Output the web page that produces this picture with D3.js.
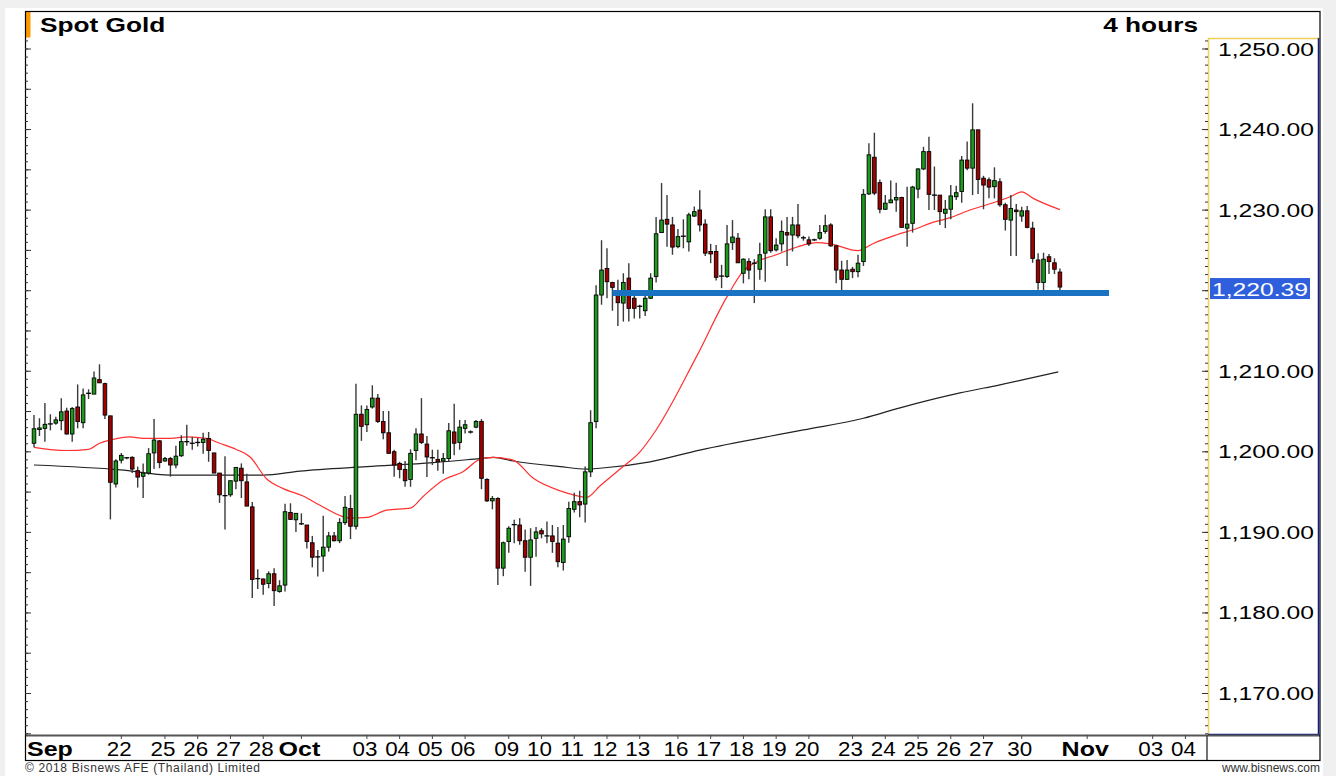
<!DOCTYPE html>
<html>
<head>
<meta charset="utf-8">
<script src="https://cdn.jsdelivr.net/npm/d3@7"></script>
<style>
	body { margin: 0; background: #f0f0f0; }
	svg { display: block; font-family: "Liberation Sans", Arial, sans-serif; }
</style>
</head>
<body>
<div id="chart"></div>
<script>

// 4 hour candles (index 0 = first bar on the left)
const candleOpen = [
	1201.0,1202.7,1202.85,1203.3,1203.5,1203.8,1205.0,1202.15,1205.5,1203.55,
	1207.1,1207.1,1208.9,1208.4,1204.4,1195.95,1198.9,1199.1,1199.25,1197.6,
	1196.9,1197.3,1199.8,1201.3,1198.8,1199.1,1198.3,1199.45,1201.1,1201.1,
	1201.0,1201.1,1201.6,1199.8,1197.3,1194.6,1194.6,1196.3,1197.9,1196.2,
	1193.1,1184.1,1184.15,1183.6,1184.8,1182.6,1183.4,1192.4,1191.5,1191.1,
	1190.85,1188.65,1186.8,1187.0,1188.1,1189.5,1188.9,1191.15,1192.9,1190.7,
	1204.6,1203.3,1205.5,1206.6,1203.7,1202.3,1199.95,1198.5,1197.75,1196.5,
	1200.1,1202.15,1200.9,1199.1,1199.0,1198.8,1199.1,1202.4,1201.1,1202.85,
	1202.4,1203.0,1203.7,1196.5,1193.85,1194.15,1185.5,1188.8,1190.8,1190.85,
	1188.9,1186.85,1189.2,1190.15,1189.6,1189.5,1188.6,1186.2,1189.4,1192.8,
	1193.75,1193.45,1197.45,1203.7,1219.4,1222.7,1220.95,1219.95,1218.4,1221.5,
	1219.0,1217.9,1217.45,1219.0,1221.7,1227.15,1228.8,1228.1,1225.4,1226.6,
	1226.0,1229.2,1229.95,1228.2,1224.8,1224.8,1221.7,1221.7,1225.9,1226.45,
	1222.1,1223.55,1223.4,1222.6,1224.6,1229.1,1225.0,1225.75,1227.15,1226.85,
	1228.1,1226.45,1226.25,1226.2,1226.45,1227.3,1228.1,1225.5,1222.5,1221.35,
	1222.6,1222.3,1223.55,1231.95,1236.5,1233.35,1230.05,1230.85,1231.2,1231.5,
	1227.7,1228.3,1232.55,1235.05,1237.2,1231.75,1231.8,1229.55,1230.05,1231.6,
	1232.25,1236.15,1235.15,1239.9,1233.9,1233.7,1232.85,1233.45,1230.6,1228.7,
	1229.95,1229.2,1229.85,1227.7,1223.75,1220.95,1224.15,1223.4,1222.25
];
const candleHigh = [
	1204.5,1204.1,1206.0,1204.6,1204.3,1206.6,1205.4,1205.5,1208.3,1207.8,
	1207.7,1209.9,1210.8,1208.5,1204.4,1199.0,1199.8,1199.3,1199.4,1198.1,
	1198.5,1200.4,1204.0,1201.4,1199.3,1199.3,1200.7,1202.0,1203.3,1201.8,
	1201.65,1202.3,1202.4,1199.8,1197.3,1199.4,1196.35,1198.0,1198.5,1197.2,
	1193.7,1185.35,1184.2,1185.1,1185.5,1184.0,1193.5,1193.55,1192.3,1192.3,
	1190.85,1189.5,1187.75,1192.0,1190.0,1190.0,1191.7,1194.45,1194.6,1208.4,
	1205.7,1205.7,1208.2,1207.1,1205.0,1205.0,1200.2,1198.7,1198.8,1200.25,
	1202.85,1206.6,1201.9,1200.2,1200.2,1199.8,1203.5,1205.9,1203.9,1203.9,
	1202.6,1203.9,1204.0,1196.65,1194.45,1194.3,1188.8,1190.7,1191.5,1191.7,
	1190.3,1190.45,1190.6,1190.45,1191.3,1190.85,1190.6,1190.85,1193.75,1194.85,
	1195.1,1198.1,1205.1,1220.6,1226.2,1225.2,1221.05,1221.3,1222.1,1223.35,
	1219.4,1218.2,1219.8,1222.1,1229.1,1233.3,1231.8,1229.1,1227.6,1228.8,
	1229.6,1230.4,1232.4,1228.8,1225.75,1225.6,1223.15,1228.1,1228.7,1227.1,
	1223.95,1223.95,1223.85,1225.9,1230.05,1230.05,1226.45,1228.65,1229.1,1229.1,
	1230.7,1226.75,1226.65,1226.4,1228.1,1229.35,1228.3,1225.6,1223.65,1223.75,
	1222.9,1224.4,1232.55,1238.25,1239.55,1233.75,1231.8,1233.6,1233.35,1231.6,
	1232.85,1232.95,1235.15,1237.8,1239.05,1235.35,1231.8,1231.2,1233.05,1232.95,
	1236.65,1238.45,1243.2,1239.9,1234.2,1234.0,1235.25,1233.9,1230.85,1231.8,
	1230.7,1230.35,1230.45,1228.5,1224.6,1224.65,1224.5,1223.95,1222.7
];
const candleLow = [
	1200.5,1201.9,1201.2,1202.6,1203.3,1202.6,1202.1,1201.2,1202.85,1202.85,
	1206.5,1207.1,1208.5,1204.0,1191.55,1195.5,1198.5,1199.0,1197.3,1195.5,
	1194.2,1197.1,1197.8,1197.9,1198.7,1196.85,1197.9,1199.3,1200.7,1200.2,
	1200.6,1199.7,1198.7,1197.3,1193.6,1190.3,1194.35,1195.3,1194.2,1193.2,
	1181.8,1182.9,1182.2,1183.0,1180.8,1182.45,1182.6,1191.5,1190.0,1190.85,
	1187.95,1185.6,1184.45,1185.05,1187.55,1188.8,1188.6,1190.85,1189.1,1190.3,
	1201.3,1202.4,1205.3,1203.5,1201.5,1199.75,1196.85,1196.65,1195.6,1195.6,
	1198.9,1200.9,1196.8,1198.3,1197.6,1197.2,1198.8,1199.5,1200.2,1202.2,
	1202.2,1202.85,1195.3,1193.7,1192.8,1183.4,1184.5,1187.4,1188.6,1188.4,
	1185.05,1183.3,1186.9,1189.2,1188.6,1187.4,1185.6,1185.2,1188.65,1192.4,
	1191.8,1191.15,1196.8,1202.85,1218.2,1219.0,1217.45,1215.55,1216.1,1216.1,
	1216.5,1216.5,1216.8,1218.9,1220.95,1227.1,1225.4,1224.4,1225.2,1225.2,
	1224.8,1229.1,1227.3,1224.25,1223.35,1221.2,1220.25,1221.5,1225.0,1223.4,
	1220.85,1221.35,1218.4,1221.3,1221.05,1224.65,1224.8,1224.8,1223.0,1224.8,
	1226.45,1226.15,1225.5,1226.1,1226.25,1227.0,1225.4,1220.85,1219.8,1221.3,
	1221.5,1221.6,1223.0,1231.8,1231.8,1229.55,1229.95,1230.8,1229.75,1227.8,
	1225.4,1227.15,1231.4,1234.9,1229.95,1229.95,1228.1,1227.7,1228.8,1231.2,
	1230.85,1234.9,1231.8,1231.95,1230.05,1231.4,1231.4,1230.35,1227.4,1224.25,
	1224.25,1228.5,1227.7,1223.4,1220.05,1219.8,1222.0,1222.0,1219.8
];
const candleClose = [
	1202.8,1202.9,1203.35,1203.4,1203.9,1204.9,1202.15,1205.3,1203.7,1207.0,
	1207.2,1209.1,1208.5,1204.5,1196.15,1198.8,1199.5,1199.2,1197.8,1196.8,
	1197.3,1199.7,1201.4,1198.6,1199.1,1198.3,1199.4,1201.2,1201.2,1201.0,
	1201.1,1201.5,1200.1,1197.3,1194.6,1194.5,1196.35,1198.0,1196.35,1193.2,
	1184.1,1184.2,1183.5,1184.8,1182.7,1183.3,1192.5,1191.55,1192.3,1191.0,
	1188.8,1186.85,1186.9,1188.1,1189.5,1188.9,1191.15,1193.05,1190.7,1204.6,
	1203.1,1205.2,1206.6,1203.7,1202.3,1199.75,1198.3,1197.75,1196.35,1199.75,
	1202.15,1201.1,1199.3,1199.2,1198.7,1199.1,1202.55,1201.0,1203.0,1203.3,
	1202.4,1203.7,1196.65,1193.85,1194.15,1185.5,1188.65,1190.45,1190.9,1188.9,
	1186.85,1189.0,1190.0,1189.75,1189.5,1188.8,1186.3,1189.1,1192.9,1193.75,
	1193.35,1197.45,1203.55,1219.4,1222.5,1221.05,1220.35,1218.45,1220.95,1217.75,
	1217.75,1218.0,1219.0,1221.5,1227.0,1228.7,1228.2,1225.35,1226.65,1226.7,
	1229.35,1229.75,1228.1,1224.6,1224.5,1221.6,1221.75,1225.75,1226.6,1223.4,
	1223.85,1222.5,1223.35,1224.4,1229.1,1224.9,1225.6,1227.3,1226.85,1228.1,
	1226.75,1226.5,1225.75,1226.25,1227.15,1228.0,1225.5,1222.5,1221.35,1222.5,
	1222.3,1223.35,1231.9,1236.8,1232.05,1230.05,1230.8,1231.2,1231.5,1227.8,
	1228.2,1232.8,1235.05,1237.2,1231.9,1231.8,1229.75,1230.05,1231.7,1232.1,
	1236.15,1235.15,1239.9,1233.75,1233.05,1232.8,1233.6,1230.6,1228.8,1230.15,
	1229.75,1229.85,1227.8,1223.95,1220.95,1223.85,1223.55,1222.6,1220.39
];

// moving averages, sampled along the drawn lines (bar index, price)
const redMaIdx = [0,6,10,12,14,17.6,20,25,28,31.6,34,37,39.6,42.6,45.6,49.3,52.4,58,61,64.6,
	69,71.3,75,78.7,81.7,84.2,87.8,91.5,96.4,101.3,103.7,107.4,111,114,121.4,127,130,132.4,136,141,
	143.4,145.9,151,153.8,158,161.8,164.2,167.9,171.5,174.6,178.9,181,183.1,188];
const redMaVal = [1200.5,1200.1,1200.25,1201.0,1201.4,1201.8,1201.6,1201.6,1201.8,1201.6,
	1201.0,1200.25,1199.3,1196.6,1195.4,1194.45,1193.3,1191.7,1191.8,1192.7,
	1192.95,1194.4,1196.45,1197.5,1199.0,1199.25,1198.9,1196.65,1195.1,1194.3,
	1195.7,1197.8,1199.9,1202.65,1211.75,1219.2,1222.4,1223.5,1224.4,1225.6,
	1225.9,1225.75,1224.9,1225.8,1226.85,1227.65,1228.3,1229.0,1229.95,1230.6,
	1231.6,1232.2,1231.4,1230.0];
const blackMaIdx = [0,15.8,25,34,42,48.7,61,73.2,81.7,84.2,87.8,96.4,101.3,103.7,112.9,122,141,152,158.7,169.7,177,187.7];
const blackMaVal = [1198.3,1197.7,1197.05,1197.05,1197.05,1197.55,1198.1,1198.6,1199.1,1199.25,
	1198.8,1198.1,1197.8,1197.9,1198.7,1200.15,1202.65,1204.1,1205.4,1207.25,1208.25,1209.85];

// support line drawn on the chart
const supportLevel = 1219.65;
const supportFrom = 106;
const supportTo = 197;

// date axis: bar index of each day tick, and its label
const tickIdx = [16,24,30,36,42,49,61,67,73,79,87,93,99,105,111,118,124,130,136,142,150,156,162,168,174,181,193,205,211];
const tickLabels = ["22","25","26","27","28","Oct","03","04","05","06","09","10","11","12","13",
	"16","17","18","19","20","23","24","25","26","27","30","Nov","03","04"];
const firstMonth = "Sep";

const priceTicks = [1170,1180,1190,1200,1210,1220,1230,1240,1250];

const chartTitle = "Spot Gold";
const chartPeriod = "4 hours";


class CandleChart {

	constructor(parentElement) {
		this.parentElement = parentElement;
		this.data = candleOpen.map((o, i) => ({
			i: i, open: o, high: candleHigh[i], low: candleLow[i], close: candleClose[i]
		}));
		this.initVis();
	}

	// text that looks stretched sideways like the original screenshot
	label(parent, x, y, str, size, weight, sx, anchor) {
		return parent.append("text")
			.attr("transform", "translate(" + x + "," + y + ") scale(" + sx + ",1)")
			.attr("text-anchor", anchor || "start")
			.style("font-size", size + "px")
			.style("font-weight", weight || "normal")
			.attr("fill", "#000")
			.text(str);
	}

	initVis() {
		let vis = this;

		vis.width = 1336;
		vis.height = 776;
		vis.plot = {left: 25, right: 1208, top: 38, bottom: 735};

		vis.svg = d3.select("#" + vis.parentElement).append("svg")
			.attr("width", vis.width)
			.attr("height", vis.height);

		vis.svg.append("rect").attr("width", vis.width).attr("height", vis.height).attr("fill", "#f0f0f0");
		vis.svg.append("rect").attr("x", 5).attr("y", 8).attr("width", 1318).attr("height", 768).attr("fill", "#fff");

		// scales: one slot per 4h bar
		vis.x = d3.scaleLinear()
			.domain([0, 211])
			.range([34, 34 + 5.457 * 211]);

		vis.y = d3.scaleLinear()
			.domain([1170, 1250])
			.range([693, 48.5]);

		vis.last = candleClose[candleClose.length - 1];

		// the last price box hides most of the label below it
		vis.svg.append("clipPath").attr("id", "behind-box")
			.append("rect")
			.attr("x", 1310).attr("y", 0).attr("width", 26).attr("height", vis.height);

		vis.drawFrame();
		vis.drawAxes();
		vis.updateVis();
	}

	drawFrame() {
		let vis = this;
		let p = vis.plot;

		// title bar
		vis.svg.append("rect").attr("x", 25).attr("y", 11).attr("width", 5.5).attr("height", 26.5).attr("fill", "#ff9900");
		vis.label(vis.svg, 40, 32, chartTitle, 21, "bold", 1.25);
		vis.label(vis.svg, 1198, 32, chartPeriod, 21, "bold", 1.25, "end");

		// price panel borders
		vis.svg.append("line").attr("x1", p.right + 0.5).attr("x2", p.right + 0.5).attr("y1", p.top).attr("y2", p.bottom)
			.attr("stroke", "#f2cf5b").attr("stroke-width", 1.5);
		vis.svg.append("line").attr("x1", p.right).attr("x2", 1319).attr("y1", p.top + 0.5).attr("y2", p.top + 0.5)
			.attr("stroke", "#f2cf5b").attr("stroke-width", 1.5);
		vis.svg.append("line").attr("x1", 1318.5).attr("x2", 1318.5).attr("y1", p.top).attr("y2", p.bottom)
			.attr("stroke", "#101c8c").attr("stroke-width", 1.5);
		vis.svg.append("line").attr("x1", p.right).attr("x2", 1319).attr("y1", p.bottom - 0.5).attr("y2", p.bottom - 0.5)
			.attr("stroke", "#101c8c").attr("stroke-width", 1.5);

		// date strip
		vis.svg.append("line").attr("x1", 25).attr("x2", 1320).attr("y1", p.bottom + 0.5).attr("y2", p.bottom + 0.5)
			.attr("stroke", "#555").attr("stroke-width", 2);
		vis.svg.append("line").attr("x1", 1207).attr("x2", 1207).attr("y1", p.bottom).attr("y2", 760)
			.attr("stroke", "#444").attr("stroke-width", 1.5);

		// outer frame
		vis.svg.append("rect").attr("x", 25.5).attr("y", 11.5).attr("width", 1294.5).attr("height", 749)
			.attr("fill", "none").attr("stroke", "#000").attr("stroke-width", 1.2);

		// footer
		vis.svg.append("text").attr("x", 25).attr("y", 772).attr("textLength", 235)
			.style("font-size", "12px").attr("fill", "#333")
			.text("\u00a9 2018 Bisnews AFE (Thailand) Limited");
		vis.svg.append("text").attr("x", 1320).attr("y", 772).attr("text-anchor", "end")
			.style("font-size", "12px").attr("fill", "#333")
			.text("www.bisnews.com");
	}

	drawAxes() {
		let vis = this;
		let p = vis.plot;

		let minor = d3.range(1165, 1252);
		let major = minor.filter(d => d % 5 === 0);

		// small ticks on the left edge of the plot
		vis.svg.append("g").attr("class", "axis")
			.attr("transform", "translate(" + p.left + ",0)")
			.call(d3.axisRight(vis.y).tickValues(minor).tickSize(3).tickFormat(""))
			.call(g => g.select(".domain").remove());
		vis.svg.append("g").attr("class", "axis")
			.attr("transform", "translate(" + p.left + ",0)")
			.call(d3.axisRight(vis.y).tickValues(major).tickSize(6).tickFormat(""))
			.call(g => g.select(".domain").remove());

		// ticks on the price panel edge
		vis.svg.append("g").attr("class", "axis")
			.attr("transform", "translate(" + p.right + ",0)")
			.call(d3.axisLeft(vis.y).tickValues(minor).tickSize(3).tickFormat(""))
			.call(g => g.select(".domain").remove());
		vis.svg.append("g").attr("class", "axis")
			.attr("transform", "translate(" + p.right + ",0)")
			.call(d3.axisLeft(vis.y).tickValues(priceTicks).tickSize(6).tickFormat(""))
			.call(g => g.select(".domain").remove());
		vis.svg.selectAll(".axis line").attr("stroke", "#333");

		// price labels (the one under the last price box only peeks out on the right)
		let fmt = d3.format(",.2f");
		priceTicks.forEach(v => {
			let t = vis.label(vis.svg, 1218, vis.y(v) + 7, fmt(v), 19, "normal", 1.3);
			if (Math.abs(vis.y(v) - vis.y(vis.last)) < 12) {
				t.attr("clip-path", "url(#behind-box)");
			}
		});

		// date ticks and labels
		vis.svg.selectAll(".date-tick")
			.data(tickIdx)
			.enter()
			.append("line")
			.attr("class", "date-tick")
			.attr("x1", d => vis.x(d))
			.attr("x2", d => vis.x(d))
			.attr("y1", p.bottom)
			.attr("y2", p.bottom + 4)
			.attr("stroke", "#444");

		tickIdx.forEach((d, k) => {
			let txt = tickLabels[k];
			let isMonth = isNaN(+txt);
			vis.label(vis.svg, vis.x(d) - 2, 756, txt, 20, isMonth ? "bold" : "normal",
				isMonth ? 1.25 : 1.12, "middle");
		});
		vis.label(vis.svg, 27, 756, firstMonth, 20, "bold", 1.25);
	}

	updateVis() {
		let vis = this;
		let bodyW = 3.6;

		// moving averages
		let line = d3.line()
			.x(d => vis.x(d[0]))
			.y(d => vis.y(d[1]))
			.curve(d3.curveMonotoneX);

		vis.svg.append("path")
			.datum(blackMaIdx.map((d, k) => [d, blackMaVal[k]]))
			.attr("d", line)
			.attr("fill", "none")
			.attr("stroke", "#222")
			.attr("stroke-width", 1.2);

		vis.svg.append("path")
			.datum(redMaIdx.map((d, k) => [d, redMaVal[k]]))
			.attr("d", line)
			.attr("fill", "none")
			.attr("stroke", "#ff3030")
			.attr("stroke-width", 1.2);

		// candles
		let candles = vis.svg.append("g").selectAll("g")
			.data(vis.data)
			.enter()
			.append("g");

		candles.append("line")
			.attr("x1", d => vis.x(d.i))
			.attr("x2", d => vis.x(d.i))
			.attr("y1", d => vis.y(d.high))
			.attr("y2", d => vis.y(d.low))
			.attr("stroke", "#3a3a3a")
			.attr("stroke-width", 1.4);

		candles.filter(d => Math.abs(d.close - d.open) >= 0.2)
			.append("rect")
			.attr("x", d => vis.x(d.i) - bodyW / 2)
			.attr("width", bodyW)
			.attr("y", d => vis.y(Math.max(d.open, d.close)))
			.attr("height", d => Math.max(1, Math.abs(vis.y(d.open) - vis.y(d.close))))
			.attr("fill", d => d.close >= d.open ? "#1c9a1c" : "#a00000")
			.attr("stroke", "#000")
			.attr("stroke-width", 0.9);

		candles.filter(d => Math.abs(d.close - d.open) < 0.2)
			.append("line")
			.attr("x1", d => vis.x(d.i) - 2.5)
			.attr("x2", d => vis.x(d.i) + 2.5)
			.attr("y1", d => vis.y(d.close))
			.attr("y2", d => vis.y(d.close))
			.attr("stroke", "#000")
			.attr("stroke-width", 1.3);

		// support line
		vis.svg.append("line")
			.attr("x1", vis.x(supportFrom))
			.attr("x2", vis.x(supportTo))
			.attr("y1", vis.y(supportLevel))
			.attr("y2", vis.y(supportLevel))
			.attr("stroke", "#1a72c2")
			.attr("stroke-width", 6);

		// last price box
		vis.svg.append("rect")
			.attr("x", 1210)
			.attr("y", vis.y(vis.last) - 9)
			.attr("width", 100)
			.attr("height", 21)
			.attr("fill", "#2f5fdc");
		vis.label(vis.svg, 1212, vis.y(vis.last) + 8.5, d3.format(",.2f")(vis.last), 19, "normal", 1.3)
			.attr("fill", "#fff");
	}
}

new CandleChart("chart");
</script>
</body>
</html>
